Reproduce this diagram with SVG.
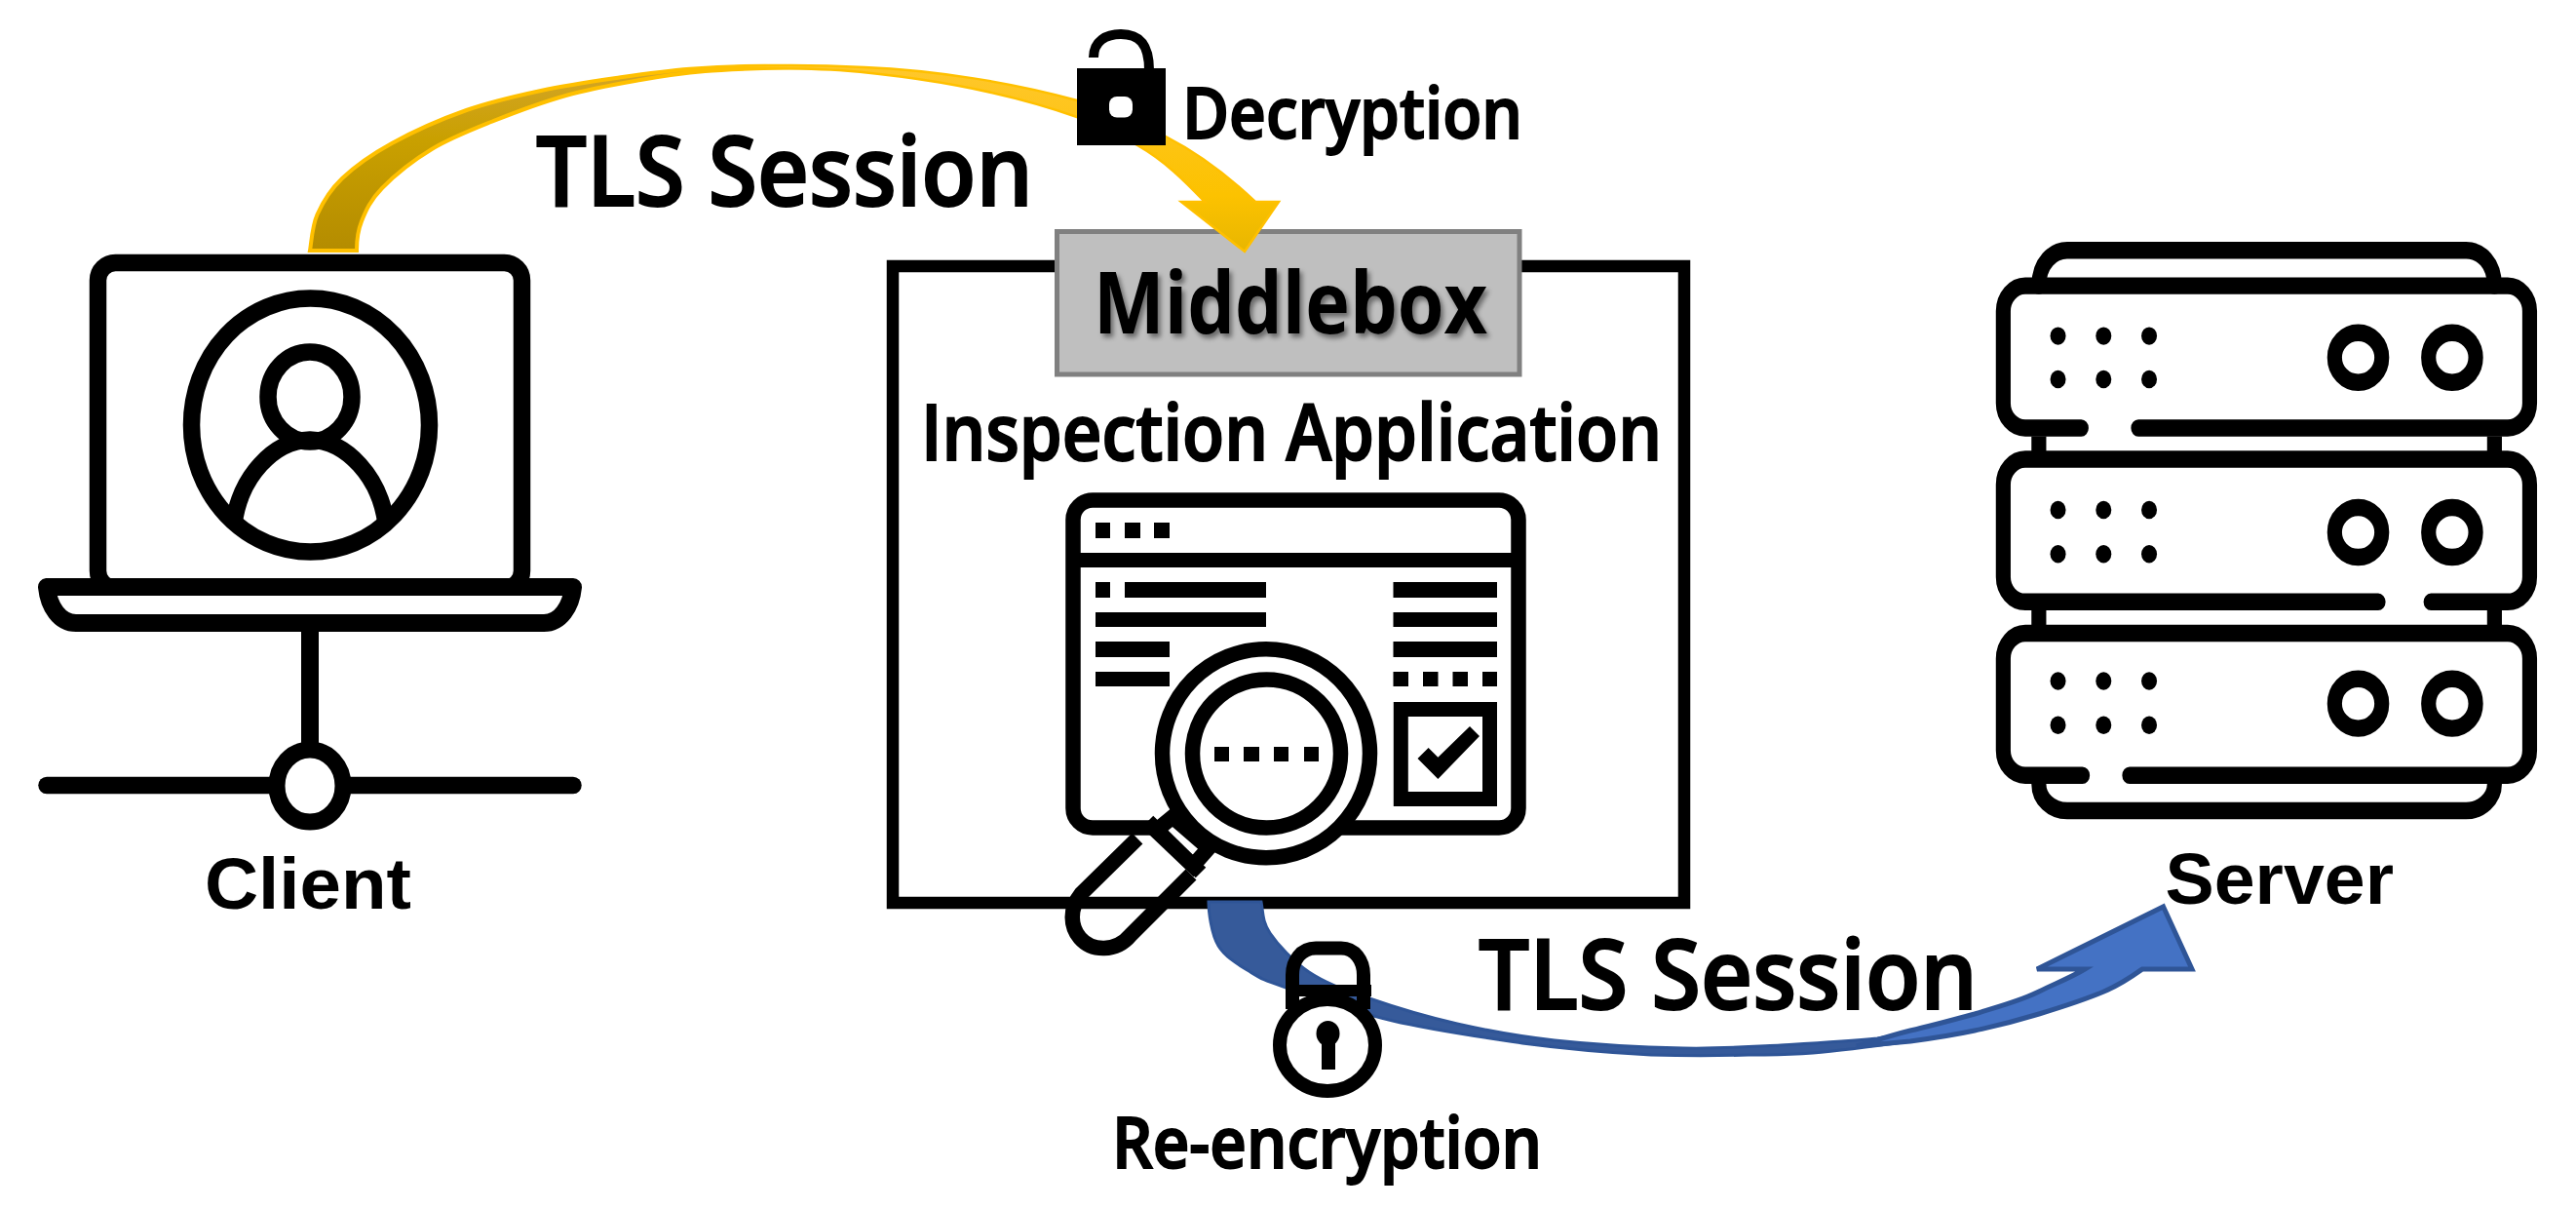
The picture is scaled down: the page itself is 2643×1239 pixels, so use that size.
<svg xmlns="http://www.w3.org/2000/svg" width="2643" height="1239" viewBox="0 0 2643 1239">
<defs>
<linearGradient id="goldDark" x1="0" y1="1" x2="0" y2="0"><stop offset="0" stop-color="#b48c00"/><stop offset="0.6" stop-color="#c9a000"/><stop offset="1" stop-color="#d4a52a"/></linearGradient>
<linearGradient id="goldTop" x1="0" y1="0" x2="0" y2="1"><stop offset="0" stop-color="#ffc72c"/><stop offset="0.7" stop-color="#fcc200"/><stop offset="1" stop-color="#e8b600"/></linearGradient>
<filter id="shadow" x="-10%" y="-20%" width="120%" height="140%"><feDropShadow dx="3" dy="4" stdDeviation="2.5" flood-color="#000" flood-opacity="0.45"/></filter>
</defs>
<style>
.ink{fill:none;stroke:#000;stroke-width:17.5;stroke-linecap:round;stroke-linejoin:round}
.app{fill:none;stroke:#000;stroke-width:15.5;stroke-linejoin:round}
.srv{fill:none;stroke:#000;stroke-width:37;stroke-linecap:round;stroke-linejoin:round}
.b{fill:#000;stroke:none}
.w{fill:#fff;stroke:#000;stroke-width:15.5}
.arial{font-family:"Liberation Sans",Arial,sans-serif;font-weight:700;fill:#000}
.ui{font-family:"Open Sans","Noto Sans",sans-serif;font-weight:600;fill:#000;stroke:#000;stroke-width:2}
</style>
<rect width="2643" height="1239" fill="#fff"/>

<g id="client">
<rect class="ink" x="100.5" y="269.5" width="435" height="334" rx="18" ry="18"/>
<path d="M48,602 H588 C586,622 575,639 558,639 H78 C61,639 50,622 48,602 Z" fill="#fff" stroke="#000" stroke-width="18" stroke-linejoin="round"/>
<ellipse class="ink" cx="318.5" cy="436" rx="122" ry="130"/>
<ellipse class="ink" cx="318" cy="407" rx="43" ry="46"/>
<path d="M240,537 C246,490 280,452 318,451 C356,452 390,490 396,537" fill="none" stroke="#000" stroke-width="17.5"/>
<path d="M318,648 V770" fill="none" stroke="#000" stroke-width="18"/>
<path class="ink" d="M48,805.5 H588"/>
<ellipse cx="318" cy="806" rx="34" ry="37" fill="#fff" stroke="#000" stroke-width="17"/>
<text class="arial" x="210" y="932" font-size="74" textLength="212" lengthAdjust="spacingAndGlyphs">Client</text>
</g>

<g id="middlebox">
<g id="inspection-app">
<rect class="app" x="1101" y="513" width="457" height="336" rx="20" ry="20"/>
<rect class="b" x="1101" y="567" width="457" height="15"/>
<rect class="b" x="1124" y="536" width="15" height="16"/><rect class="b" x="1154" y="536" width="16" height="16"/><rect class="b" x="1184" y="536" width="16" height="16"/>
<rect class="b" x="1124" y="597" width="15" height="16"/><rect class="b" x="1154" y="597" width="145" height="16"/>
<rect class="b" x="1124" y="628" width="175" height="15"/>
<rect class="b" x="1124" y="658" width="76" height="16"/>
<rect class="b" x="1124" y="689" width="76" height="15"/>
<rect class="b" x="1429.5" y="597" width="106.5" height="16"/>
<rect class="b" x="1429.5" y="628" width="106.5" height="15"/>
<rect class="b" x="1429.5" y="658" width="106.5" height="16"/>
<rect class="b" x="1429.5" y="689" width="15.5" height="15"/><rect class="b" x="1460" y="689" width="15.5" height="15"/><rect class="b" x="1490.5" y="689" width="15.5" height="15"/><rect class="b" x="1521" y="689" width="15" height="15"/>
<rect x="1437.3" y="727.5" width="91.2" height="92" fill="none" stroke="#000" stroke-width="15"/>
<polygon class="b" points="1454.5,778 1465.6,767 1475.4,776.7 1508,745 1518,755 1475.4,799"/>
<path d="M1203,838 L1186,852 L1224,888 L1240,870 Z" class="w"/>
<path d="M1167,860 L1109,917 C1097,932 1098,950 1108,962 C1120,976 1145,977 1160,959 L1222,897" fill="none" stroke="#000" stroke-width="15.5"/>
<path d="M1178,842 L1232,895" fill="none" stroke="#000" stroke-width="15"/>
<ellipse class="w" cx="1299" cy="772.7" rx="106.5" ry="107"/>
<circle class="w" cx="1299.5" cy="773" r="76"/>
<rect class="b" x="1246" y="766" width="15" height="15"/><rect class="b" x="1276" y="766" width="16" height="15"/><rect class="b" x="1307" y="766" width="15" height="15"/><rect class="b" x="1338" y="766" width="15" height="15"/>
</g>
<rect x="916" y="273" width="812" height="653" fill="none" stroke="#000" stroke-width="12.5"/>
<rect x="1084.5" y="237.5" width="474.5" height="146.5" fill="#bfbfbf" stroke="#808080" stroke-width="5"/>
<text class="ui" x="1122" y="342" font-size="88" textLength="404" lengthAdjust="spacingAndGlyphs" filter="url(#shadow)" style="font-weight:700;stroke-width:0">Middlebox</text>
<text class="ui" x="945" y="472" font-size="79" textLength="760" lengthAdjust="spacingAndGlyphs">Inspection Application</text>
</g>

<g id="server">
<g transform="translate(2000,220) scale(0.4101,0.4719)">
<path class="srv" d="M224,155 C224,105 260,78 295,78 H1293 C1330,78 1364,105 1364,155"/>
<path class="srv" d="M330,464 H190 C160,464 135,440 135,410 V210 C135,180 160,155 190,155 H1397 C1427,155 1452,180 1452,210 V410 C1452,440 1427,464 1397,464 H473"/>
<path class="srv" d="M224,482 V515 M1364,482 V515 M224,860 V892 M1364,860 V892" style="stroke-linecap:butt"/>
<path class="srv" d="M1073,842 H190 C160,842 135,818 135,788 V587 C135,557 160,532 190,532 H1397 C1427,532 1452,557 1452,587 V788 C1452,818 1427,842 1397,842 H1205"/>
<path class="srv" d="M333,1219 H190 C160,1219 135,1195 135,1165 V965 C135,935 160,910 190,910 H1397 C1427,910 1452,935 1452,965 V1165 C1452,1195 1427,1219 1397,1219 H451"/>
<path class="srv" d="M224,1238 C224,1270 255,1296 295,1296 H1293 C1330,1296 1364,1270 1364,1238"/>
<g fill="#000">
<circle cx="272" cy="264" r="19.5"/><circle cx="386" cy="264" r="19.5"/><circle cx="500" cy="264" r="19.5"/>
<circle cx="272" cy="358" r="19.5"/><circle cx="386" cy="358" r="19.5"/><circle cx="500" cy="358" r="19.5"/>
<circle cx="272" cy="642" r="19.5"/><circle cx="386" cy="642" r="19.5"/><circle cx="500" cy="642" r="19.5"/>
<circle cx="272" cy="738" r="19.5"/><circle cx="386" cy="738" r="19.5"/><circle cx="500" cy="738" r="19.5"/>
<circle cx="272" cy="1014" r="19.5"/><circle cx="386" cy="1014" r="19.5"/><circle cx="500" cy="1014" r="19.5"/>
<circle cx="272" cy="1110" r="19.5"/><circle cx="386" cy="1110" r="19.5"/><circle cx="500" cy="1110" r="19.5"/>
</g>
<ellipse class="srv" cx="1023" cy="311" rx="59" ry="54"/><ellipse class="srv" cx="1258" cy="311" rx="59" ry="54"/>
<ellipse class="srv" cx="1023" cy="691" rx="59" ry="54"/><ellipse class="srv" cx="1258" cy="691" rx="59" ry="54"/>
<ellipse class="srv" cx="1023" cy="1063" rx="59" ry="54"/><ellipse class="srv" cx="1258" cy="1063" rx="59" ry="54"/>
</g>
<text class="arial" x="2221.5" y="926.5" font-size="74" textLength="234.5" lengthAdjust="spacingAndGlyphs">Server</text>
</g>

<g id="connectors">
<g id="tls-client-middlebox">
<path d="M318,257 C319.3,250.8 320,232.3 325.5,220 C331,207.7 338.2,195.2 351,183 C363.8,170.8 380.7,158.7 402,147 C423.3,135.3 453.1,122 478.6,113 C504.1,104 529.4,98.5 555,93 C580.6,87.5 606.5,83.7 632,80 C657.5,76.3 680,72.9 708,70.7 C730,69 775,67 810,68 L810,69 C795.6,69.7 749,70.8 723.5,73 C698,75.2 680.8,77.8 657,82 C633.2,86.2 606.1,90.8 580.6,98 C555.1,105.2 527,115.8 504,125 C481,134.2 461.7,141.7 443,153 C424.3,164.3 404,180.7 392,193 C380,205.3 375.3,216.3 371,227 C366.7,237.7 366,252 366,257 Z" fill="url(#goldDark)" stroke="#ffc000" stroke-width="4"/>
<path d="M720,70 C780,66 830,66 887,69 C960,72 1040,85 1105,103 C1145,115 1170,124 1196,140 C1235,160 1265,185 1288,207 H1312 L1277,258 L1212,207 H1236 C1215,185 1195,165 1167,149 C1145,137 1125,128 1105,120 C1040,97 960,80 861,72 C815,69 765,70 720,70 Z" fill="url(#goldTop)" stroke="#ffc000" stroke-width="2.5"/>
</g>
<g id="tls-middlebox-server">
<path d="M1240,925 H1294 C1296,935 1294.8,945 1303,957 C1311.2,969 1326.5,986 1343,997 C1359.5,1008 1376.7,1014.2 1402,1023 C1427.3,1031.8 1462.8,1042.7 1495,1050 C1527.2,1057.3 1556.3,1062.8 1595,1067 C1633.7,1071.2 1688.3,1074.2 1727,1075 C1765.7,1075.8 1793.8,1073.7 1827,1072 C1860,1070 1895,1068 1926,1065 L2026,1048 V1057 C2004,1061.7 1987.7,1064.2 1960,1068 C1932.3,1071.8 1887.7,1077.7 1860,1080 C1832.3,1082.3 1821.7,1081.7 1794,1082 C1760,1083 1730,1083 1694,1082 C1655.3,1080 1606,1075.8 1562,1070 C1523.2,1064.2 1469.4,1056.5 1429,1047 C1388.6,1037.5 1343.8,1021.3 1319.5,1013 C1295.2,1004.7 1294.6,1004.2 1283,997 C1271.4,989.8 1257.2,982 1250,970 C1242.8,958 1240,935 1240,925 Z" fill="#365a9a" stroke="#2f5597" stroke-width="3"/>
<path d="M2219.6,930 L2249,994 H2198 C2191.4,998.7 2176.3,1009.5 2158.6,1017 C2140.9,1024.5 2114.1,1033.3 2092,1040 C2069.9,1046.7 2048,1052.3 2026,1057 C2004,1061.7 1987.7,1064.2 1960,1068 L1905,1073 C1925,1067 1940,1062 1960,1057 C1982,1052 2004,1046 2026,1040 C2048,1033 2072,1027 2092,1017 C2108,1009 2124,1003 2139,994 H2090 Z" fill="#4472c4" stroke="#2f5597" stroke-width="5"/>
</g>
</g>

<g id="decryption">
<rect x="1105" y="70" width="91" height="79" fill="#000"/>
<path d="M1122,59 C1122,42 1135,35 1150,35 C1168,35 1179,44 1179,72" fill="none" stroke="#000" stroke-width="10"/>
<rect x="1138" y="99" width="24" height="21.5" rx="8" fill="#fff"/>
<text class="ui" x="1213" y="141.5" font-size="73" textLength="349" lengthAdjust="spacingAndGlyphs">Decryption</text>
</g>

<g id="reencryption">
<ellipse cx="1362" cy="1072" rx="49" ry="47" fill="none" stroke="#000" stroke-width="14"/>
<path d="M1326,1035 V1000 C1326,985 1335,972.5 1350,972.5 H1376 C1390,972.5 1399,985 1399,1000 V1035" fill="none" stroke="#000" stroke-width="14"/>
<path d="M1319,1016 H1407" fill="none" stroke="#000" stroke-width="12"/>
<ellipse cx="1362.5" cy="1060" rx="12" ry="13" fill="#000"/>
<rect x="1356" y="1060" width="14" height="37" fill="#000"/>
<text class="ui" x="1141" y="1198" font-size="73" textLength="441" lengthAdjust="spacingAndGlyphs">Re-encryption</text>
</g>

<g id="labels">
<text class="ui" x="550" y="211" font-size="100" textLength="510" lengthAdjust="spacingAndGlyphs">TLS Session</text>
<text class="ui" x="1517" y="1035" font-size="100" textLength="512" lengthAdjust="spacingAndGlyphs">TLS Session</text>
</g>
</svg>
